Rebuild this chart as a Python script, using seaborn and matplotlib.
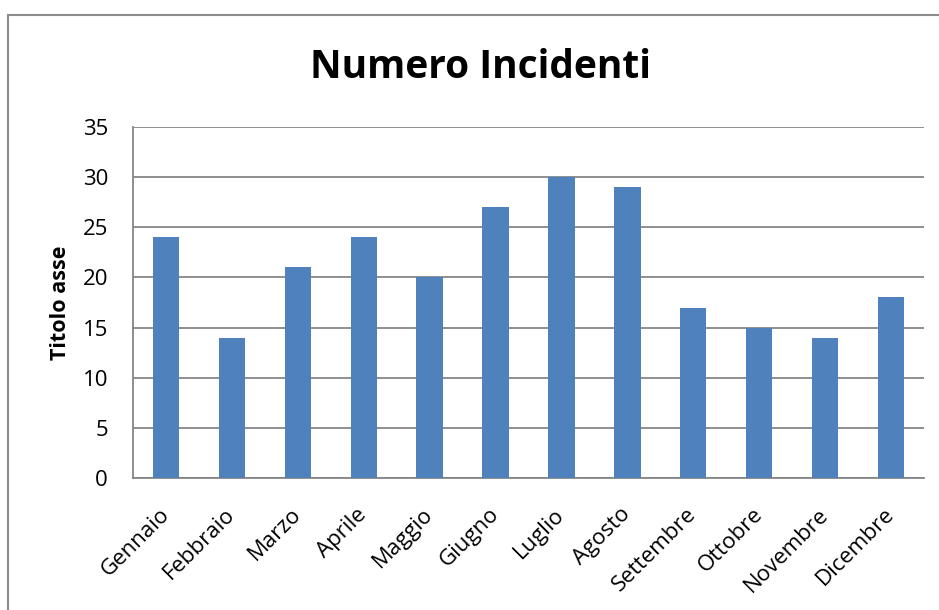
import pandas as pd
import matplotlib
matplotlib.use('Agg')
import matplotlib.pyplot as plt
import seaborn as sns
from matplotlib.patches import Rectangle

# dati
mesi = ['Gennaio', 'Febbraio', 'Marzo', 'Aprile', 'Maggio', 'Giugno',
        'Luglio', 'Agosto', 'Settembre', 'Ottobre', 'Novembre', 'Dicembre']
incidenti = [24, 14, 21, 24, 20, 27, 30, 29, 17, 15, 14, 18]
y_ticks = [0, 5, 10, 15, 20, 25, 30, 35]

df = pd.DataFrame({'mese': mesi, 'incidenti': incidenti})

sns.set_style('white')
plt.rcParams['font.family'] = ['Open Sans', 'DejaVu Sans']
plt.rcParams['text.color'] = 'black'
plt.rcParams['xtick.color'] = 'black'
plt.rcParams['ytick.color'] = 'black'
plt.rcParams['axes.labelcolor'] = 'black'

fig = plt.figure(figsize=(9.39, 6.10), dpi=100)
ax = fig.add_axes([133 / 939, 1 - 478 / 610, (924 - 133) / 939, (478 - 127) / 610])

# bordo del grafico (stile Excel)
fig.patches.append(Rectangle((8 / 939, -0.05), 1.1, 1 - 15 / 610 + 0.05,
                             transform=fig.transFigure, fill=False,
                             edgecolor='#8c8c8c', linewidth=1.5))

sns.barplot(data=df, x='mese', y='incidenti', color='#4F81BD', width=0.4,
            saturation=1, edgecolor='#4F81BD', linewidth=0, ax=ax, zorder=3)

ax.set_ylim(0, 35)
ax.set_yticks(y_ticks)
ax.set_xlim(-0.5, len(mesi) - 0.5)
ax.yaxis.grid(True, color='#868686', linewidth=1.3, zorder=0)
ax.set_axisbelow(True)
for s in ['top', 'right']:
    ax.spines[s].set_visible(False)
for s in ['left', 'bottom']:
    ax.spines[s].set_color('#868686')
    ax.spines[s].set_linewidth(1.3)
ax.tick_params(axis='y', length=0, labelsize=16, pad=18)
ax.tick_params(axis='x', length=0, labelsize=16, pad=24)
plt.setp(ax.get_xticklabels(), rotation=45, ha='right', va='center',
         rotation_mode='anchor')

ax.set_xlabel('')
ax.set_ylabel('Titolo asse', fontsize=15.5, fontweight='bold', labelpad=8)
fig.text(481 / 939, 1 - 67 / 610, 'Numero Incidenti', fontsize=28,
         fontweight='bold', ha='center', va='center')

fig.savefig('out.png', dpi=100)
